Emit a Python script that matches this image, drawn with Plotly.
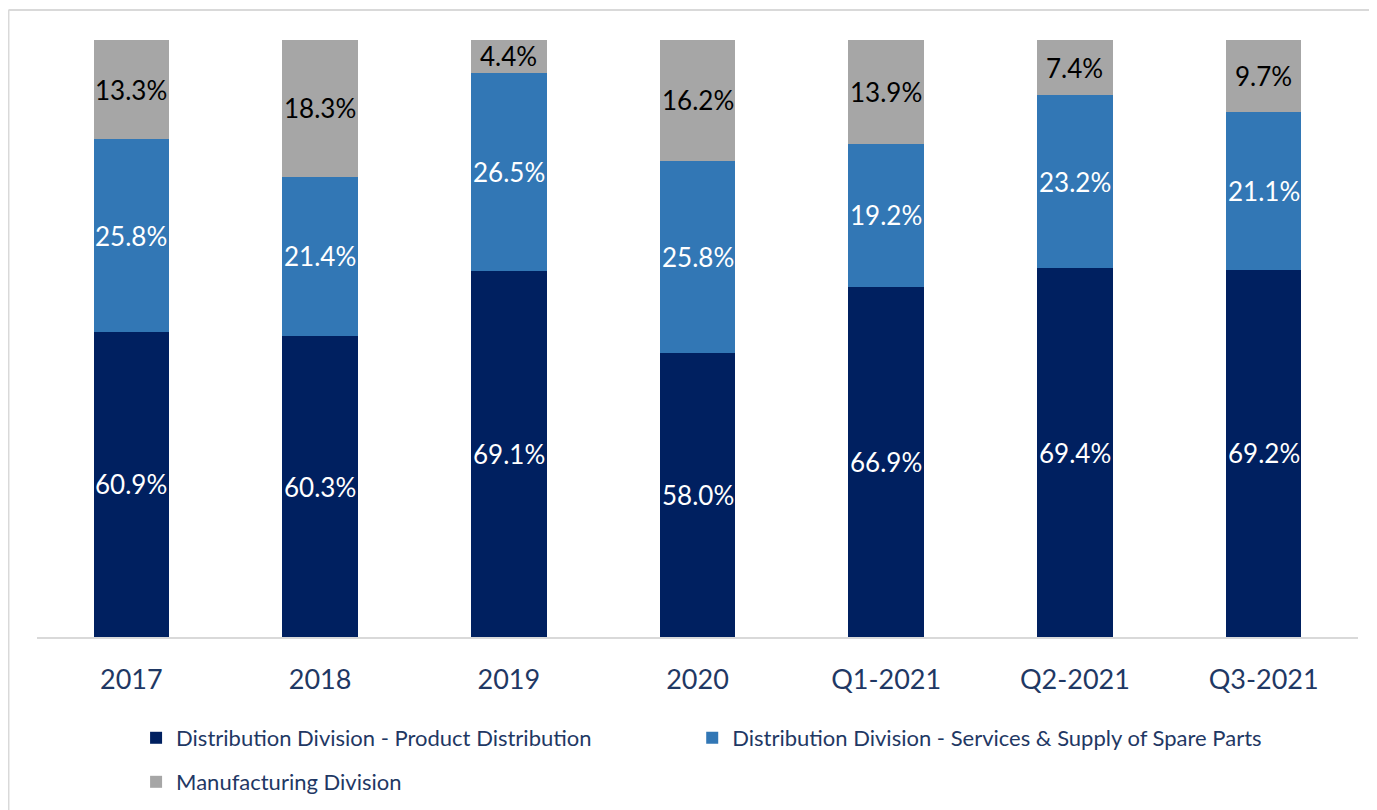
import plotly.graph_objects as go

periods = ["2017", "2018", "2019", "2020", "Q1-2021", "Q2-2021", "Q3-2021"]
product_dist = [60.9, 60.3, 69.1, 58.0, 66.9, 69.4, 69.2]
services_parts = [25.8, 21.4, 26.5, 25.8, 19.2, 23.2, 21.1]
manufacturing = [13.3, 18.3, 4.4, 16.2, 13.9, 7.4, 9.7]

names = [
    "Distribution Division - Product Distribution",
    "Distribution Division - Services & Supply of Spare Parts",
    "Manufacturing Division",
]
colors = ["#002060", "#3277B5", "#A6A6A6"]
text_colors = ["white", "white", "black"]
legends = ["legend", "legend2", "legend3"]

Y_MIN, Y_MAX = 20, 100   # value axis starts at 20%, so the bottom of each bar is cut off

fig = go.Figure()
annotations = []
base = [0.0] * len(periods)
for vals, name, col, tcol, lg in zip(
    [product_dist, services_parts, manufacturing], names, colors, text_colors, legends
):
    fig.add_trace(go.Bar(
        x=periods,
        y=vals,
        name=name,
        marker=dict(color=col, line=dict(width=0)),
        legend=lg,
        showlegend=True,
        hovertemplate="%{x}: %{y:.1f}%<extra></extra>",
    ))
    # label sits in the middle of the visible part of each segment
    # (x given as category index: "2017" etc. would be read as an index otherwise)
    for i, v in enumerate(vals):
        lo = max(base[i], Y_MIN)
        hi = base[i] + v
        annotations.append(dict(
            x=i, y=(lo + hi) / 2, xref="x", yref="y",
            text=f"{v:.1f}%", showarrow=False,
            font=dict(color=tcol, size=26, family="Lato"),
        ))
        base[i] = hi

legend_font = dict(size=22, color="#1F3864")
clear = "rgba(0,0,0,0)"

fig.update_layout(
    barmode="stack",
    bargap=0.6,
    width=1369,
    height=802,
    margin=dict(l=29, r=19, t=32, b=173),
    plot_bgcolor="white",
    paper_bgcolor="white",
    font=dict(family="Lato", color="#1F3864"),
    showlegend=True,
    annotations=annotations,
    xaxis=dict(
        type="category", automargin=False,
        showline=True, linecolor="#D9D9D9", linewidth=2,
        tickfont=dict(size=27, color="#1F3864"), ticks="", ticklabelstandoff=18,
    ),
    yaxis=dict(range=[Y_MIN, Y_MAX], visible=False),
    legend=dict(x=0.075, y=0.0898, yref="container", xanchor="left", yanchor="middle",
                font=legend_font, bgcolor=clear),
    legend2=dict(x=0.496, y=0.0898, yref="container", xanchor="left", yanchor="middle",
                 font=legend_font, bgcolor=clear),
    legend3=dict(x=0.075, y=0.0349, yref="container", xanchor="left", yanchor="middle",
                 font=legend_font, bgcolor=clear),
    shapes=[
        dict(type="line", xref="paper", yref="paper", x0=-0.0216, x1=1.03, y0=1.0503, y1=1.0503,
             line=dict(color="#D9D9D9", width=2)),
        dict(type="line", xref="paper", yref="paper", x0=-0.0216, x1=-0.0216, y0=1.0503, y1=-0.3,
             line=dict(color="#D9D9D9", width=2)),
    ],
)

fig.write_html("out.html")
